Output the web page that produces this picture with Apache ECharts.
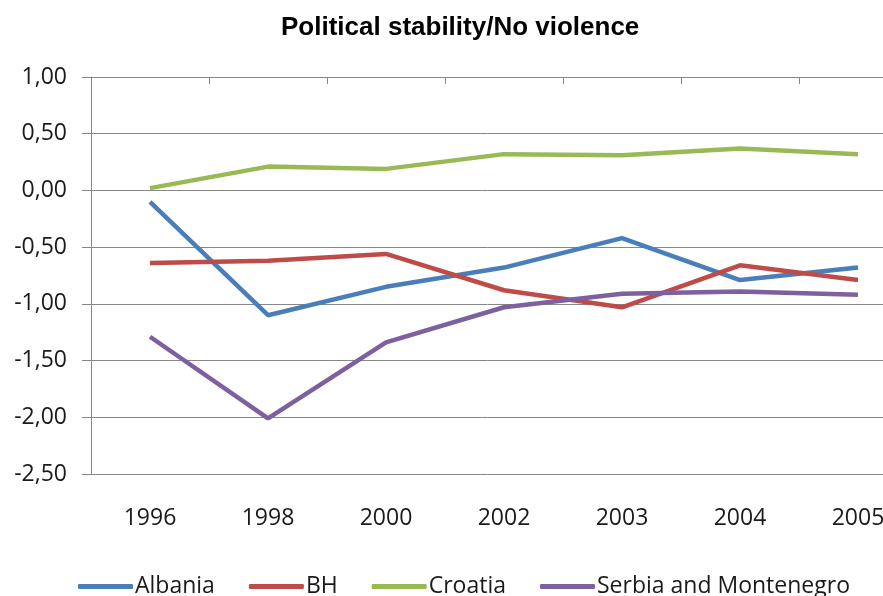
<!DOCTYPE html>
<html>
<head>
<meta charset="utf-8">
<script src="https://cdn.jsdelivr.net/npm/echarts@6/dist/echarts.min.js"></script>
<style>html,body{margin:0;padding:0;background:#fff;}#c{width:883px;height:596px;}</style>
</head>
<body>
<div id="c"></div>
<script>
const years = ['1996','1998','2000','2002','2003','2004','2005'];
const albania = [-0.10, -1.10, -0.85, -0.68, -0.42, -0.79, -0.68];
const bh = [-0.64, -0.62, -0.56, -0.88, -1.03, -0.66, -0.79];
const croatia = [0.02, 0.21, 0.19, 0.32, 0.31, 0.37, 0.32];
const serbia = [-1.29, -2.01, -1.34, -1.03, -0.91, -0.89, -0.92];
const seriesNames = ['Albania','BH','Croatia','Serbia and Montenegro'];
const seriesData = [albania, bh, croatia, serbia];
const colors = ['#4A7EBB','#BE4B48','#98B954','#7D60A0'];

const labelFont = '"Open Sans", sans-serif';
const chart = echarts.init(document.getElementById('c'));
chart.setOption({
  backgroundColor: '#ffffff',
  animation: false,
  title: {
    text: 'Political stability/No violence',
    left: 276, top: 10,
    textStyle: { fontFamily: '"Liberation Sans", Arial, sans-serif', fontWeight: 'bold', fontSize: 26, color: '#000' }
  },
  legend: {
    left: 73, top: 570,
    itemWidth: 55, itemHeight: 5, itemGap: 34,
    icon: 'roundRect',
    textStyle: { fontFamily: labelFont, fontSize: 23, color: '#1a1a1a', padding: [0,0,0,-3] },
    data: seriesNames
  },
  grid: { left: 91, right: -34, top: 77, bottom: 122, containLabel: false, outerBoundsMode: 'none' },
  xAxis: [
    {
      type: 'category', data: years, position: 'bottom', boundaryGap: true,
      axisLine: { show: false }, axisTick: { show: false },
      axisLabel: { margin: 33, fontFamily: labelFont, fontSize: 23, color: '#1a1a1a' }
    },
    {
      type: 'category', data: years, position: 'top', boundaryGap: true,
      axisLine: { show: true, onZero: true, lineStyle: { color: '#878787', width: 1 } },
      axisTick: { show: true, inside: true, length: 7, lineStyle: { color: '#878787' } },
      axisLabel: { show: false }
    }
  ],
  yAxis: {
    type: 'value', min: -2.5, max: 1, interval: 0.5,
    axisLine: { show: true, lineStyle: { color: '#878787', width: 1 } },
    axisTick: { show: true, length: 9, lineStyle: { color: '#878787' } },
    splitLine: { show: true, lineStyle: { color: '#878787', width: 1 } },
    axisLabel: {
      margin: 24, fontFamily: labelFont, fontSize: 23, color: '#1a1a1a',
      formatter: v => v.toFixed(2).replace('.', ',')
    }
  },
  series: seriesNames.map((n, i) => ({
    name: n, type: 'line', xAxisIndex: 0, data: seriesData[i],
    symbol: 'none', lineStyle: { color: colors[i], width: 4.5 },
    itemStyle: { color: colors[i] }
  }))
});
</script>
</body>
</html>
